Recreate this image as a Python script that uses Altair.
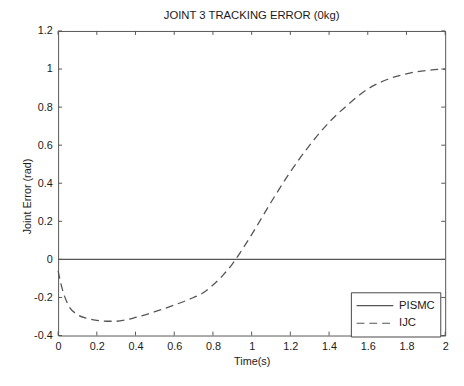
import altair as alt
import pandas as pd

# ---- data ----
time_s = [0, 0.02, 0.05, 0.1, 0.15, 0.2, 0.25, 0.3, 0.35, 0.4, 0.5, 0.6, 0.7, 0.75,
          0.8, 0.85, 0.9, 0.95, 1.0, 1.1, 1.2, 1.3, 1.4, 1.5, 1.6, 1.7, 1.8, 1.9, 2.0]
ijc_err = [-0.06, -0.15, -0.235, -0.29, -0.31, -0.32, -0.325, -0.325, -0.318, -0.305,
           -0.275, -0.24, -0.2, -0.175, -0.135, -0.085, -0.025, 0.05, 0.13, 0.30,
           0.46, 0.60, 0.72, 0.815, 0.895, 0.945, 0.975, 0.992, 1.0]
pismc_time = [0, 0.5, 1.0, 1.5, 2.0]
pismc_err = [0, 0, 0, 0, 0]
series_names = ["PISMC", "IJC"]
x_ticks = [0, 0.2, 0.4, 0.6, 0.8, 1.0, 1.2, 1.4, 1.6, 1.8, 2.0]
y_ticks = [-0.4, -0.2, 0, 0.2, 0.4, 0.6, 0.8, 1.0, 1.2]

FONT = "Liberation Sans"
W, H = 394, 310
TICK = 4

df = pd.concat([
    pd.DataFrame({"t": pismc_time, "err": pismc_err, "series": "PISMC"}),
    pd.DataFrame({"t": time_s, "err": ijc_err, "series": "IJC"}),
])
xt = pd.DataFrame({"v": x_ticks})
yt = pd.DataFrame({"v": y_ticks})

xscale = alt.Scale(domain=[0, 2], nice=False, zero=False)
yscale = alt.Scale(domain=[-0.4, 1.2], nice=False, zero=False)

x_axis = alt.Axis(title="Time(s)", values=x_ticks, ticks=False, domain=False, grid=False,
                  labelExpr="'' + datum.value", labelPadding=5, titlePadding=4,
                  labelOverlap=False, labelFlush=False)
y_axis = alt.Axis(title="Joint Error (rad)", values=y_ticks, ticks=False, domain=False, grid=False,
                  labelExpr="'' + datum.value", labelPadding=6,
                  labelOverlap=False, labelFlush=False,
                  titleX=-31, titleY=168, titleBaseline="middle", titleAlign="center",
                  titleAngle=270)

lines = alt.Chart(df).mark_line(strokeWidth=1.3, color="#555555", interpolate="monotone").encode(
    x=alt.X("t:Q", scale=xscale, axis=x_axis),
    y=alt.Y("err:Q", scale=yscale, axis=y_axis),
    strokeDash=alt.StrokeDash("series:N",
        scale=alt.Scale(domain=series_names, range=[[1, 0], [8, 5]]),
        legend=alt.Legend(title=None, orient="none", legendX=298, legendY=266,
                          symbolType="stroke", symbolSize=1400, clipHeight=17,
                          symbolStrokeColor="#555555", symbolStrokeWidth=1.2,
                          strokeColor="#444", fillColor="white", padding=5,
                          labelFont=FONT, labelFontSize=11.5, labelColor="#1a1a1a",
                          labelOffset=5, rowPadding=1)),
)

xb = alt.Chart(xt).mark_rule(color="#555").encode(
    x=alt.X("v:Q", scale=xscale, axis=x_axis), y=alt.value(H), y2=alt.value(H - TICK))
xtop = alt.Chart(xt).mark_rule(color="#555").encode(
    x=alt.X("v:Q", scale=xscale, axis=x_axis), y=alt.value(0), y2=alt.value(TICK))
yl = alt.Chart(yt).mark_rule(color="#555").encode(
    y=alt.Y("v:Q", scale=yscale, axis=y_axis), x=alt.value(0), x2=alt.value(TICK))
yr = alt.Chart(yt).mark_rule(color="#555").encode(
    y=alt.Y("v:Q", scale=yscale, axis=y_axis), x=alt.value(W), x2=alt.value(W - TICK))

chart = alt.layer(lines, xb, xtop, yl, yr).properties(
    width=W, height=H,
    title=alt.TitleParams("JOINT 3 TRACKING ERROR (0kg)", font=FONT, fontSize=11.5,
                          fontWeight="normal", color="#1a1a1a", anchor="middle", offset=4),
    autosize=alt.AutoSizeParams(type="none"),
    padding={"left": 51, "top": 20, "right": 11, "bottom": 48},
).configure_view(stroke="#555", strokeWidth=1).configure_axis(
    labelFont=FONT, labelFontSize=11, labelColor="#1a1a1a",
    titleFont=FONT, titleFontSize=11, titleFontWeight="normal", titleColor="#1a1a1a",
)

chart.save("out.html", embed_options={"renderer": "svg", "actions": False})
